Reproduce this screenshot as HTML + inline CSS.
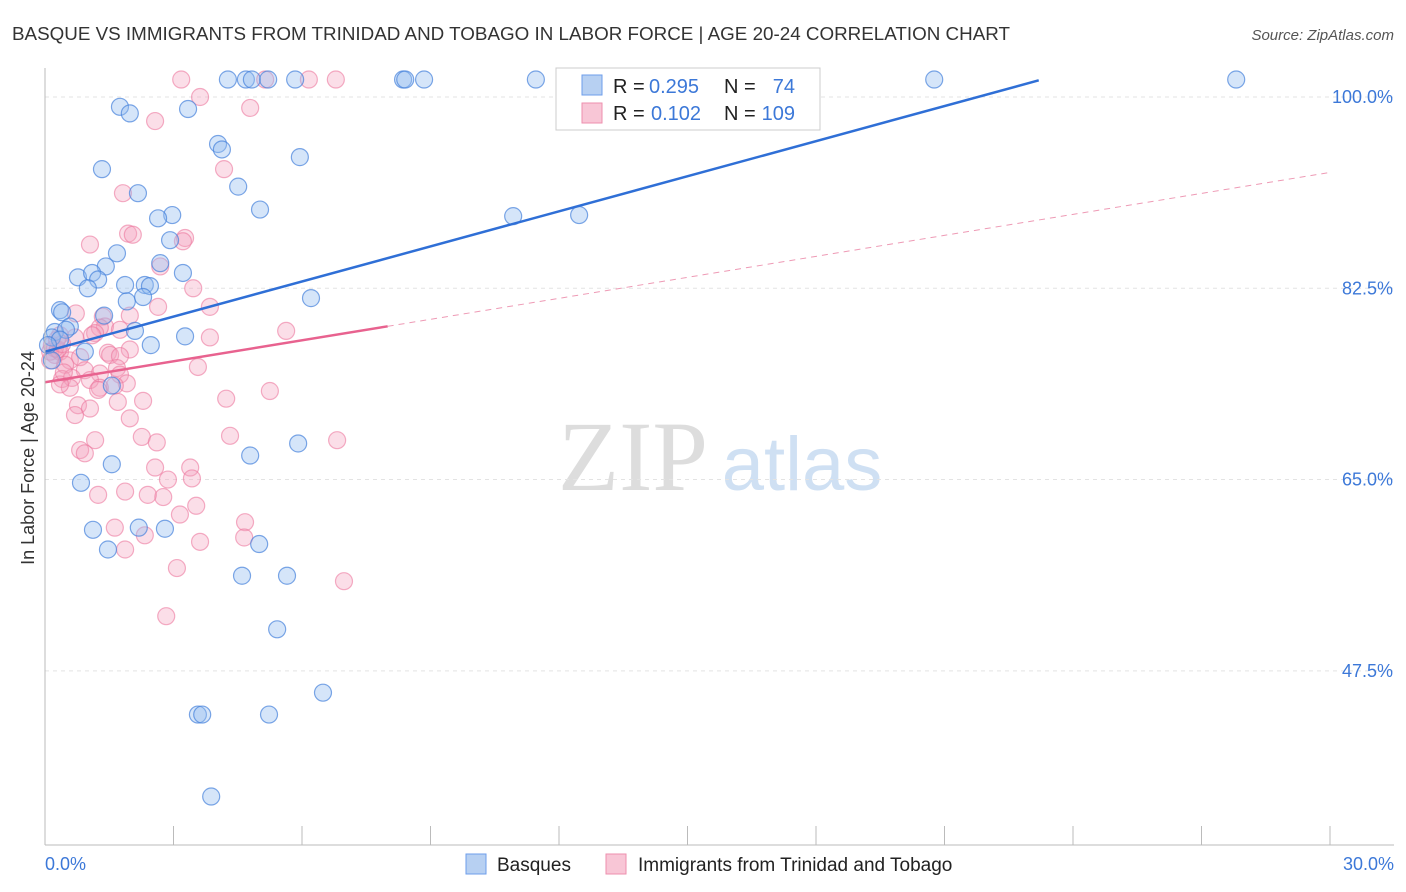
<!DOCTYPE html>
<html><head><meta charset="utf-8"><style>
body{margin:0;background:#fff;font-family:"Liberation Sans",sans-serif;}
#wrap{position:relative;width:1406px;height:892px;overflow:hidden;}
</style></head><body>
<div id="wrap">
<svg id="svg" width="1406" height="892" xmlns="http://www.w3.org/2000/svg">
<text x="12" y="40" font-size="18" fill="#333" textLength="998" lengthAdjust="spacingAndGlyphs">BASQUE VS IMMIGRANTS FROM TRINIDAD AND TOBAGO IN LABOR FORCE | AGE 20-24 CORRELATION CHART</text>
<text x="1394" y="40" font-size="15" fill="#555" font-style="italic" text-anchor="end">Source: ZipAtlas.com</text>
<text x="34" y="458" font-size="18" fill="#333" text-anchor="middle" transform="rotate(-90 34 458)">In Labor Force | Age 20-24</text>
<g>
<text x="633" y="490" font-size="100" fill="#ddd" font-family="Liberation Serif,serif" text-anchor="middle">ZIP</text>
<text x="802" y="490" font-size="76" fill="#cfe0f3" text-anchor="middle">atlas</text>
</g>
<g id="grid"></g><g id="pts"></g><g id="lines"></g>
<line x1="45" y1="68" x2="45" y2="845" stroke="#bbb"/>
<line x1="45" y1="845" x2="1394" y2="845" stroke="#bbb"/>
<text x="45" y="870" font-size="18" fill="#3c78d8">0.0%</text>
<text x="1394" y="870" font-size="18" fill="#3c78d8" text-anchor="end">30.0%</text>
<g>
<rect x="556" y="68" width="264" height="62" fill="#fff" stroke="#ccc"/>
<rect x="582" y="75" width="20" height="20" fill="#b7d0f2" stroke="#6d9eeb"/>
<rect x="582" y="103" width="20" height="20" fill="#f8c6d6" stroke="#ee8fae"/>
<text x="613" y="93" font-size="20" fill="#222">R =</text>
<text x="649" y="93" font-size="20" fill="#3c78d8">0.295</text>
<text x="724" y="93" font-size="20" fill="#222">N =</text>
<text x="795" y="93" font-size="20" fill="#3c78d8" text-anchor="end">74</text>
<text x="613" y="120" font-size="20" fill="#222">R =</text>
<text x="651" y="120" font-size="20" fill="#3c78d8">0.102</text>
<text x="724" y="120" font-size="20" fill="#222">N =</text>
<text x="795" y="120" font-size="20" fill="#3c78d8" text-anchor="end">109</text>
</g>
<g>
<rect x="466" y="854" width="20" height="20" fill="#b7d0f2" stroke="#6d9eeb"/>
<text x="497" y="871" font-size="19" fill="#222">Basques</text>
<rect x="606" y="854" width="20" height="20" fill="#f8c6d6" stroke="#ee8fae"/>
<text x="638" y="871" font-size="19" fill="#222">Immigrants from Trinidad and Tobago</text>
</g>
</svg>
</div>
<script>
const yTicks=[100,82.5,65,47.5];
const xTickCount=10;
const blueX=[4.27,4.69,4.83,5.21,5.84,8.36,8.41,8.85,11.46,20.76,27.81,1.75,1.98,3.34,4.04,4.13,5.95,1.33,4.51,2.17,5.02,2.97,2.64,10.93,12.47,2.92,1.68,1.42,2.69,0.77,1.10,3.22,1.24,1.00,1.87,2.33,2.45,1.91,2.29,6.21,0.35,0.40,1.38,0.58,0.23,0.49,0.16,2.10,3.27,2.47,0.35,0.07,0.93,1.56,5.91,4.79,1.56,0.84,1.12,2.19,2.80,1.47,5.00,4.60,5.65,5.42,6.49,3.57,3.67,5.23,3.88,0.16];
const blueY=[101.6,101.6,101.6,101.6,101.6,101.6,101.6,101.6,101.6,101.6,101.6,99.1,98.5,98.9,95.7,95.2,94.5,93.4,91.8,91.2,89.7,89.2,88.9,89.1,89.2,86.9,85.7,84.5,84.8,83.5,83.9,83.9,83.3,82.5,82.8,82.8,82.7,81.3,81.7,81.6,80.5,80.3,80.0,79.0,78.5,78.7,78.0,78.6,78.1,77.3,77.8,77.3,76.7,73.6,68.3,67.2,66.4,64.7,60.4,60.6,60.5,58.6,59.1,56.2,56.2,51.3,45.5,43.5,43.5,43.5,36.0,75.9];
const pinkX=[3.18,5.14,6.16,6.79,3.62,4.79,2.57,4.18,1.82,1.05,1.94,2.05,3.27,3.22,2.69,3.46,2.64,3.85,0.72,1.35,1.98,1.40,1.28,1.17,1.75,1.10,0.70,0.35,5.63,3.85,1.98,1.47,1.52,1.75,0.23,0.12,0.35,0.58,0.82,0.47,3.57,1.68,0.93,1.28,0.40,1.05,0.63,1.75,1.91,1.63,1.28,0.58,0.35,1.24,5.25,2.29,4.23,1.70,0.77,1.05,0.70,1.98,4.32,2.26,2.61,6.82,1.17,0.82,0.93,2.57,3.39,3.43,2.87,1.87,1.24,2.76,2.40,3.53,3.15,4.67,1.63,2.33,4.65,3.62,1.87,3.08,6.98,2.83,0.16,0.23,0.30,0.40,0.12,0.28,0.44];
const pinkY=[101.6,101.6,101.6,101.6,100.0,99.0,97.8,93.4,91.2,86.5,87.5,87.4,87.1,86.8,84.5,82.5,80.8,80.8,80.2,79.9,80.0,79.0,78.9,78.4,78.7,78.2,78.0,78.2,78.6,78.0,76.9,76.6,76.4,76.3,76.4,76.7,76.7,75.9,76.2,75.5,75.3,75.2,75.0,74.7,74.2,74.1,74.3,74.6,73.8,73.6,73.4,73.4,73.7,73.2,73.1,72.2,72.4,72.1,71.8,71.5,70.9,70.6,69.0,68.9,68.4,68.6,68.6,67.7,67.4,66.1,66.1,65.1,65.0,63.9,63.6,63.4,63.6,62.6,61.8,61.1,60.6,59.9,59.7,59.3,58.6,56.9,55.7,52.5,77.3,77.0,76.9,77.4,75.9,77.8,74.8];
const blueTrend=[76.7,1.07,23.2];
const pinkTrend=[73.9,0.64,8.0,30];
const NS='http://www.w3.org/2000/svg';
const sx=v=>45+v/30*1285;
const sy=v=>97+(100-v)*10.93;
function mk(t,a,p){const e=document.createElementNS(NS,t);for(const k in a)e.setAttribute(k,a[k]);p.appendChild(e);return e;}
const grid=document.getElementById('grid');
yTicks.forEach(t=>{
 const l=mk('line',{x1:45,x2:1394,y1:sy(t),y2:sy(t),stroke:'#e3e3e3','stroke-dasharray':'4,4'},grid);
 
 
 const tx=mk('text',{x:1393,y:sy(t)+6,'font-size':18,fill:'#3c78d8','text-anchor':'end'},grid);
 tx.textContent=t.toFixed(1)+'%';
 
 
});
for(let i=1;i<=xTickCount;i++){
 const l=mk('line',{x1:sx(i*3),x2:sx(i*3),y1:826,y2:845,stroke:'#bbb'},grid);
 
 
}
const pts=document.getElementById('pts');
pinkX.forEach((x,i)=>{
 const c=mk('circle',{cx:sx(x),cy:sy(pinkY[i]),r:8.5,fill:'rgba(244,160,188,0.35)',stroke:'rgba(236,120,158,0.6)','stroke-width':1.2},pts);
 
 
});
blueX.forEach((x,i)=>{
 const c=mk('circle',{cx:sx(x),cy:sy(blueY[i]),r:8.5,fill:'rgba(150,190,240,0.4)',stroke:'rgba(70,130,220,0.7)','stroke-width':1.2},pts);
 
 
});
const lines=document.getElementById('lines');
const bl=mk('line',{x1:sx(0),y1:sy(blueTrend[0]),x2:sx(blueTrend[2]),y2:sy(blueTrend[0]+blueTrend[1]*blueTrend[2]),stroke:'#2f6fd6','stroke-width':2.5},lines);


const pl=mk('line',{x1:sx(0),y1:sy(pinkTrend[0]),x2:sx(pinkTrend[2]),y2:sy(pinkTrend[0]+pinkTrend[1]*pinkTrend[2]),stroke:'#e8628f','stroke-width':2.5},lines);


const pd=mk('line',{x1:sx(pinkTrend[2]),y1:sy(pinkTrend[0]+pinkTrend[1]*pinkTrend[2]),x2:sx(pinkTrend[3]),y2:sy(pinkTrend[0]+pinkTrend[1]*pinkTrend[3]),stroke:'#ee9ab5','stroke-width':1,'stroke-dasharray':'6,5'},lines);


</script>
</body></html>
